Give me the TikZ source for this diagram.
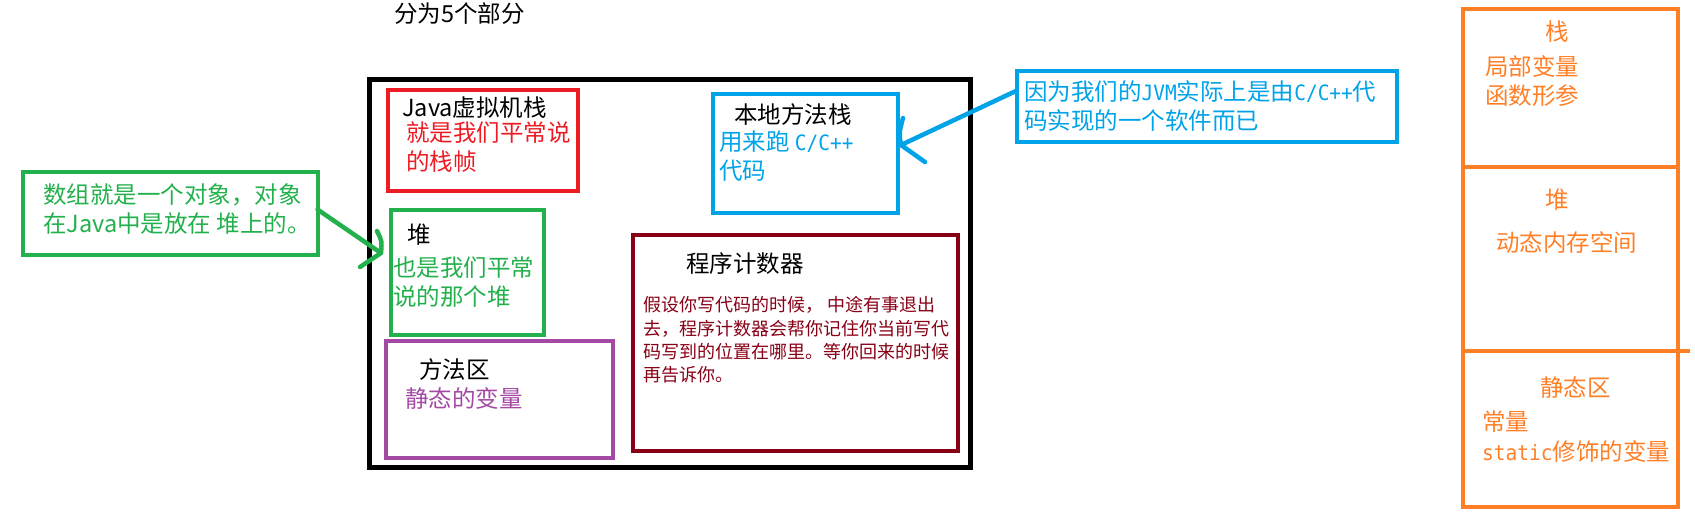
\documentclass[tikz,border=0pt]{standalone}
\usepackage{fontspec}
\setmainfont{Noto Sans CJK SC}
\newfontfamily\halfmono{DejaVu Sans Mono}[Scale=0.9,FakeStretch=0.92]
\usepackage{xcolor}
\usepackage{tikz}
\definecolor{PaintRed}{RGB}{237,28,36}
\definecolor{PaintGreen}{RGB}{34,177,76}
\definecolor{PaintPurple}{RGB}{163,73,164}
\definecolor{PaintBlue}{RGB}{0,162,232}
\definecolor{PaintMaroon}{RGB}{136,0,21}
\definecolor{PaintOrange}{RGB}{255,127,39}

\begin{document}
\begin{tikzpicture}[x=1pt,y=-1pt,
  box/.style={draw,line width=4pt,inner sep=0pt,outer sep=0pt,anchor=north west},
  txt/.style={inner sep=0pt,anchor=west,align=left,font=\fontsize{23.5}{29}\selectfont},
  smalltxt/.style={inner sep=0pt,anchor=west,align=left,font=\fontsize{18}{23.4}\selectfont},
  arr/.style={line width=4.5pt,line cap=round,line join=round}
]
\useasboundingbox (0,0) rectangle (1695,519);

\node[txt] (title) at (394,14) {分为5个部分};

\node[box,line width=5pt,minimum width=601,minimum height=387.5] (jvm) at (369,79.5) {};
\node[box,draw=PaintRed,minimum width=190,minimum height=100.5] (vmstack) at (387.5,90) {};
\node[box,draw=PaintGreen,minimum width=152.5,minimum height=125.5] (heap) at (391,209.5) {};
\node[box,draw=PaintPurple,minimum width=227,minimum height=117] (method) at (386,341) {};
\node[box,draw=PaintBlue,minimum width=184.5,minimum height=119.5] (native) at (713,93.5) {};
\node[box,draw=PaintMaroon,minimum width=325,minimum height=216] (pc) at (633,235) {};

\node[txt] (vmstacktitle) at (402,108) {Java虚拟机栈};
\node[txt,PaintRed] (vmstacknote) at (406,147.5) {就是我们平常说\\的栈帧};
\node[txt] (heaptitle) at (407,235) {堆};
\node[txt,PaintGreen] (heapnote) at (393,282.5) {也是我们平常\\说的那个堆};
\node[txt] (methodtitle) at (419,370) {方法区};
\node[txt,PaintPurple] (methodnote) at (405,398) {静态的变量};
\node[txt] (nativetitle) at (734,115) {本地方法栈};
\node[txt,PaintBlue] (nativenote) at (719,156) {用来跑 {\halfmono C/C++}\\代码};
\node[txt] (pctitle) at (686,264) {程序计数器};
\node[smalltxt,PaintMaroon] (pcnote) at (643,340) {假设你写代码的时候， 中途有事退出\\去，程序计数器会帮你记住你当前写代\\码写到的位置在哪里。等你回来的时候\\再告诉你。};

\node[box,draw=PaintGreen,minimum width=295,minimum height=83] (gcall) at (22.5,172) {};
\node[txt,PaintGreen] (gcalltext) at (43,209.5) {数组就是一个对象，对象\\在Java中是放在 堆上的。};
\node[box,draw=PaintBlue,minimum width=380,minimum height=70] (bcall) at (1017,71.5) {};
\node[txt,PaintBlue] (bcalltext) at (1024,106) {因为我们的{\halfmono JVM}实际上是由{\halfmono C/C++}代\\码实现的一个软件而已};

\coordinate (gtip) at (381,253);
\draw[arr,PaintGreen] ([yshift=4pt]gcall.east) -- (gtip);
\draw[arr,PaintGreen] ([shift={(-4,-22)}]gtip) .. controls ([shift={(1,-12)}]gtip) .. (gtip) -- ++(-21,14);
\coordinate (btip) at (901,145);
\draw[arr,PaintBlue] ([yshift=16pt]bcall.west) -- (btip);
\draw[arr,PaintBlue] ([shift={(2,-27)}]btip) .. controls ([shift={(-2,-12)}]btip) .. (btip) -- ++(24,17);

\node[box,draw=PaintOrange,minimum width=215,minimum height=157.5] (stackcol) at (1463,9.5) {};
\node[box,draw=PaintOrange,minimum width=215,minimum height=184] (heapcol) at (1463,167) {};
\node[box,draw=PaintOrange,minimum width=215,minimum height=156] (staticcol) at (1463,351) {};
\draw[line width=4pt,PaintOrange] (heapcol.south east) -- ++(12,0);

\node[txt,PaintOrange,anchor=center] (stacktitle) at (1557,32) {栈};
\node[txt,PaintOrange] (stacknote) at (1485,81) {局部变量\\函数形参};
\node[txt,PaintOrange,anchor=center] (heapcoltitle) at (1557,200) {堆};
\node[txt,PaintOrange] (heapcolnote) at (1496,243) {动态内存空间};
\node[txt,PaintOrange] (statictitle) at (1540,388) {静态区};
\node[txt,PaintOrange,font=\fontsize{23.5}{30}\selectfont] (staticnote) at (1482,437) {常量\\{\halfmono static}修饰的变量};
\end{tikzpicture}
\end{document}
